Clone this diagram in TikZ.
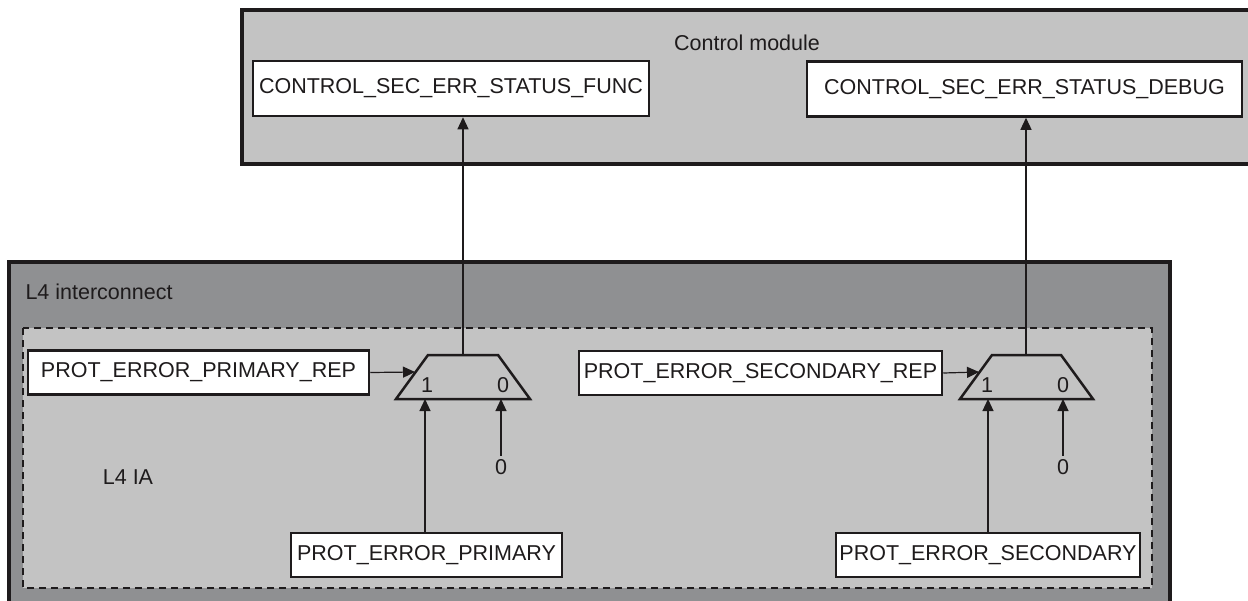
\documentclass[tikz,border=0pt]{standalone}
\usepackage{fontspec}
\setmainfont{Liberation Sans}
\usetikzlibrary{arrows.meta}
\definecolor{cmgray}{RGB}{195,195,195}
\definecolor{icgray}{RGB}{143,144,146}
\definecolor{iagray}{RGB}{195,195,195}
\definecolor{ink}{RGB}{30,27,28}
\begin{document}
\begin{tikzpicture}[x=1pt,y=-1pt,
  font=\fontsize{21.5}{25}\selectfont,
  every node/.style={text=ink},
  regbox/.style={draw=ink, line width=2.5pt, fill=white, inner sep=0pt, minimum height=44pt},
  conn/.style={draw=ink, line width=1.2pt, -{Triangle[length=12pt,width=11pt]}},
  muxshape/.style={draw=ink, line width=2.5pt, fill=iagray, line join=miter}]
\useasboundingbox (0,0) rectangle (1248,600);
\clip (0,0) rectangle (1248,600);
% Control module
\path[draw=ink, line width=3.5pt, fill=cmgray] (242,10) rectangle (1262,164);
\node (cmlabel) at (747,43) {Control module};
\node[regbox, minimum width=396pt, minimum height=55pt] (func) at (451,88.5) {CONTROL\_SEC\_ERR\_STATUS\_FUNC};
\node[regbox, minimum width=435pt, minimum height=55pt] (debug) at (1024.5,89) {CONTROL\_SEC\_ERR\_STATUS\_DEBUG};
% L4 interconnect
\path[draw=ink, line width=3.5pt, fill=icgray] (9,262) rectangle (1170,606);
\node[anchor=west] (iclabel) at (22,292) {L4 interconnect};
\path[draw=ink, line width=2.5pt, fill=iagray, dash pattern=on 7pt off 5pt] (23,328) rectangle (1152,588);
\node (ialabel) at (128,477) {L4 IA};
% registers
\node[regbox, minimum width=341pt] (prep) at (198.5,372.5) {PROT\_ERROR\_PRIMARY\_REP};
\node[regbox, minimum width=363pt] (srep) at (760.5,373) {PROT\_ERROR\_SECONDARY\_REP};
\node[regbox, minimum width=271pt] (prim) at (426.5,555) {PROT\_ERROR\_PRIMARY};
\node[regbox, minimum width=304pt] (sec) at (988,555) {PROT\_ERROR\_SECONDARY};
% mux 1
\path[muxshape] (396,399) -- (428,355) -- (498,355) -- (530,399) -- cycle;
\coordinate (m1out) at (463,355);
\coordinate (m1in) at (415,372);
\coordinate (m1s1) at (425,399);
\coordinate (m1s0) at (501,399);
\node (m1one) at (427,385) {1};
\node (m1zero) at (503,385) {0};
\node (c1) at (501,467) {0};
% mux 2
\path[muxshape] (960,399) -- (992,355) -- (1061,355) -- (1093,399) -- cycle;
\coordinate (m2out) at (1026,355);
\coordinate (m2in) at (979,372);
\coordinate (m2s1) at (988,399);
\coordinate (m2s0) at (1063,399);
\node (m2one) at (987,385) {1};
\node (m2zero) at (1063,385) {0};
\node (c2) at (1063,467) {0};
% connectors
\draw[conn] (m1out) -- (m1out |- func.south);
\draw[conn] (m2out) -- (m2out |- debug.south);
\draw[conn] (prep.east) -- (m1in);
\draw[conn] (srep.east) -- (m2in);
\draw[conn] (prim.north -| m1s1) -- (m1s1);
\draw[conn] (sec.north -| m2s1) -- (m2s1);
\draw[conn] (c1.north) -- (m1s0);
\draw[conn] (c2.north) -- (m2s0);
\end{tikzpicture}
\end{document}
